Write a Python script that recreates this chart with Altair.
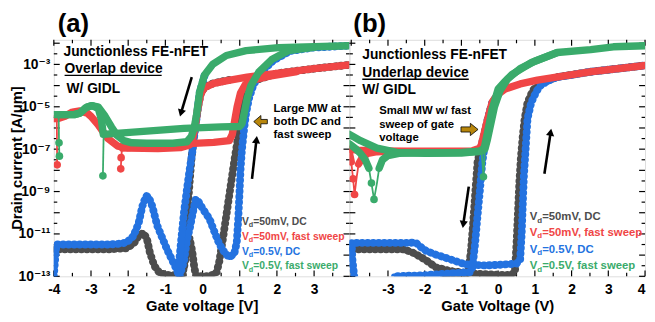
import altair as alt
import pandas as pd

FONT = "Liberation Sans, Arial, DejaVu Sans, sans-serif"
COLORS = {"gray": "#4d4d4d", "blue": "#2372e0", "red": "#f04646", "green": "#3aab6b"}
GOLD = "#b8860b"
W, H = 300, 240
XDOM_A = [-4.0, 3.95]
XDOM_B = [-4.05, 4.0]
YDOM = [-13.0, -1.84]

# ---------------- panel (a) curves: (gate voltage V, log10 drain current) ----------------
A_GRAY_FWD = [(-4.0,-11.72),(-2.5,-11.72),(-2.05,-11.68),(-1.85,-11.45),(-1.72,-11.1),(-1.6,-10.95),(-1.5,-11.2),
              (-1.42,-11.85),(-1.3,-12.5),(-1.15,-12.85),(-0.9,-12.95),(-0.6,-12.95),(-0.5,-12.6),(-0.42,-11.8),
              (-0.35,-11.2),(-0.28,-11.8),(-0.22,-12.6),(-0.17,-13.0),(0.2,-13.0),(0.38,-12.8),(0.45,-12.3),
              (0.55,-11.2),(0.65,-10.0),(0.75,-8.8),(0.85,-7.6),(0.95,-6.5),(1.02,-5.8),(1.08,-5.0),(1.15,-4.2),
              (1.3,-3.8),(1.6,-3.65),(2.0,-3.42),(3.0,-3.2),(3.95,-3.02)]
A_GRAY_REV = [(0.7,-3.74),(0.3,-3.88),(0.05,-4.08),(-0.05,-4.4),(-0.12,-5.0),(-0.18,-5.7),(-0.24,-6.5),
              (-0.3,-7.5),(-0.35,-8.6),(-0.4,-9.8),(-0.45,-11.2),(-0.5,-12.4),(-0.53,-13.0)]
A_BLUE_FWD = [(-4.0,-13.0),(-3.97,-12.3),(-3.93,-11.5),(-3.5,-11.5),(-2.5,-11.5),(-2.15,-11.45),(-2.02,-11.37),
              (-1.86,-11.1),(-1.72,-10.5),(-1.62,-9.7),(-1.52,-9.2),(-1.45,-9.25),(-1.35,-9.7),(-1.22,-10.6),
              (-1.08,-11.2),(-0.95,-11.75),(-0.8,-12.3),(-0.69,-12.7),(-0.62,-13.0),(-0.5,-12.3),(-0.42,-11.3),
              (-0.34,-10.7),(-0.25,-9.9),(-0.18,-9.35),(-0.1,-9.5),(0.0,-9.8),(0.19,-10.3),(0.32,-10.9),
              (0.45,-11.47),(0.6,-11.9),(0.72,-12.1),(0.85,-11.95),(0.92,-11.4),(0.96,-10.3),(0.99,-9.2),
              (1.02,-8.0),(1.06,-7.0),(1.12,-6.0),(1.17,-5.3),(1.25,-4.6),(1.36,-4.0),(1.56,-3.4),(1.9,-2.82),
              (2.35,-2.37),(3.0,-2.2),(3.95,-2.12)]
A_BLUE_REV = [(0.05,-3.55),(-0.08,-4.35),(-0.15,-5.4),(-0.22,-6.3),(-0.28,-7.2),(-0.35,-8.0),(-0.42,-8.9),
              (-0.5,-10.0),(-0.58,-11.4),(-0.66,-12.9)]
A_RED_REV = [(3.95,-3.02),(3.0,-3.2),(2.0,-3.42),(1.2,-3.6),(0.7,-3.75),(0.3,-3.9),(0.05,-4.1),(-0.05,-4.4),
             (-0.12,-5.0),(-0.18,-5.7),(-0.25,-6.4),(-0.35,-6.8),(-0.6,-6.93),(-1.2,-6.97),(-2.0,-6.95),
             (-2.28,-6.86),(-2.55,-6.49),(-2.81,-5.84),(-3.0,-5.45),(-3.1,-5.3),(-3.3,-5.2),(-3.5,-5.25),
             (-3.7,-5.45),(-3.9,-5.56),(-4.0,-5.56)]
A_RED_FWD = [(-2.15,-6.95),(-1.5,-6.85),(-0.5,-6.75),(0.3,-6.68),(0.72,-6.6),(0.8,-6.3),(0.86,-5.7),(0.93,-5.0),
             (1.02,-4.35),(1.15,-3.95),(1.4,-3.72),(1.8,-3.55),(2.5,-3.35)]
A_GREEN_REV = [(3.95,-2.12),(3.0,-2.17),(2.04,-2.21),(1.17,-2.35),(0.64,-2.58),(0.27,-3.0),(0.05,-3.51),
               (-0.08,-4.3),(-0.16,-5.37),(-0.22,-5.95),(-0.3,-6.4),(-0.42,-6.65),(-0.8,-6.72),(-1.5,-6.72),
               (-1.9,-6.7),(-2.12,-6.6),(-2.3,-6.35),(-2.45,-5.95),(-2.62,-5.45),(-2.81,-5.0),(-3.0,-4.95),
               (-3.15,-5.05),(-3.3,-5.3),(-3.45,-5.37),(-3.8,-5.37),(-4.0,-5.37)]
A_GREEN_FWD = [(-3.87,-5.37),(-3.45,-5.37),(-3.3,-5.3),(-3.1,-5.0),(-2.95,-4.95),(-2.8,-5.1),(-2.72,-5.6),
               (-2.67,-6.3),(-2.5,-6.28),(-1.5,-6.15),(-0.5,-6.02),(0.5,-5.95),(1.0,-5.93),(1.06,-5.8),
               (1.12,-5.3),(1.2,-4.6),(1.3,-4.0),(1.51,-3.37),(1.86,-2.77),(2.31,-2.35),(3.0,-2.2)]
A_THIN = [("green", [(-3.87,-5.4),(-3.86,-6.7),(-3.85,-7.33)]),
          ("green", [(-2.66,-6.3),(-2.68,-8.26)]),
          ("red", [(-3.92,-5.6),(-3.91,-7.74)]),
          ("red", [(-2.17,-7.0),(-2.2,-7.93)])]
A_DOTS = [("green",-3.86,-6.7),("green",-3.85,-7.33),("green",-2.68,-8.26),("red",-3.91,-7.74),("red",-2.2,-7.93),
          ("red",-2.19,-7.4)]

# ---------------- panel (b) curves ----------------
B_GRAY_FWD = [(-3.95,-11.72),(-3.5,-11.72),(-2.57,-11.72),(-2.3,-11.9),(-2.0,-12.2),(-1.69,-12.58),(-1.3,-12.75),
              (-0.8,-12.86),(0.0,-12.93),(0.38,-12.93),(0.46,-12.7),(0.5,-11.5),(0.54,-10.0),(0.58,-8.5),
              (0.62,-7.4),(0.67,-6.4),(0.72,-5.6),(0.8,-4.8),(0.95,-4.2),(1.2,-3.85),(1.6,-3.6),(2.5,-3.35),
              (4.0,-3.05)]
B_GRAY_REV = [(0.0,-4.42),(-0.16,-4.8),(-0.29,-5.65),(-0.4,-6.45),(-0.48,-7.0),(-0.56,-7.6),(-0.62,-9.0),
              (-0.68,-10.5),(-0.74,-11.8),(-0.8,-12.6),(-0.85,-12.95),(-1.5,-13.0)]
B_BLUE_FWD = [(-3.92,-13.0),(-3.97,-12.2),(-3.99,-11.42),(-3.0,-11.42),(-2.4,-11.42),(-2.25,-11.4),(-2.12,-11.6),
              (-1.96,-11.8),(-1.69,-11.98),(-1.29,-12.21),(-0.88,-12.44),(-0.35,-12.49),(0.19,-12.44),(0.5,-12.4),
              (0.6,-12.2),(0.64,-11.0),(0.67,-9.6),(0.7,-8.3),(0.74,-7.2),(0.8,-5.56),(0.9,-4.8),(1.05,-4.25),
              (1.18,-3.95),(1.4,-3.75),(1.61,-3.6),(2.0,-3.5),(2.5,-3.35),(4.0,-3.05)]
B_BLUE_REV = [(0.0,-4.42),(-0.16,-4.8),(-0.29,-5.65),(-0.38,-7.0),(-0.43,-7.6),(-0.5,-9.0),(-0.57,-10.3),
              (-0.63,-11.5),(-0.7,-12.58),(-0.76,-12.8),(-1.2,-12.85),(-2.0,-12.95),(-2.84,-13.0)]
B_RED_REV = [(4.0,-3.05),(2.5,-3.35),(1.5,-3.62),(1.07,-3.74),(0.6,-3.92),(0.19,-4.16),(0.0,-4.4),(-0.16,-4.77),
             (-0.29,-5.6),(-0.4,-6.4),(-0.48,-6.95),(-0.7,-7.08),(-1.5,-7.1),(-2.5,-7.1),(-3.3,-7.08),
             (-3.8,-7.05),(-4.05,-7.0)]
B_RED_FWD1 = [(-4.05,-7.2),(-4.0,-7.6)]
B_RED_FWD2 = [(-3.8,-7.7),(-3.7,-7.4),(-3.55,-7.2),(-3.3,-7.12),(-3.0,-7.1)]
B_GREEN_REV = [(4.0,-2.12),(3.14,-2.17),(2.52,-2.3),(1.61,-2.44),(0.91,-2.91),(0.38,-3.47),(0.19,-3.8),(0.0,-4.16),
               (-0.16,-5.09),(-0.3,-6.3),(-0.38,-6.95),(-0.5,-7.1),(-1.0,-7.18),(-2.0,-7.2),(-2.76,-7.15),
               (-3.3,-6.95),(-3.75,-6.6),(-4.05,-6.3)]
B_GREEN_FWD1 = [(-4.05,-6.75),(-3.9,-6.95),(-3.75,-7.2),(-3.62,-7.5),(-3.52,-7.9)]
B_GREEN_FWD2 = [(-3.24,-7.9),(-3.15,-7.5),(-3.0,-7.3),(-2.7,-7.2),(-2.0,-7.17),(-1.0,-7.15),(-0.45,-7.1)]
B_GREEN_FWD3 = [(-0.36,-7.0),(-0.3,-6.6),(-0.2,-5.8),(-0.1,-5.0),(0.05,-4.25),(0.25,-3.7),(0.6,-3.2),(1.0,-2.85),
                (1.6,-2.45)]
B_THIN = [("red", [(-4.0,-7.6),(-3.95,-8.4),(-3.91,-9.14),(-3.85,-8.3),(-3.8,-7.7)]),
          ("green", [(-3.52,-7.9),(-3.45,-8.6),(-3.38,-9.37),(-3.3,-8.6),(-3.24,-7.9)]),
          ("green", [(-0.45,-7.1),(-0.40,-8.3),(-0.36,-7.0)])]
B_DOTS = [("red",-3.91,-9.14),("red",-3.95,-8.4),("green",-3.38,-9.37),("green",-3.45,-8.6),("green",-0.40,-8.3)]

# ---------------- annotations ----------------
SERIES_ORDER = ["gray", "blue", "red", "green"]
BEADED = {"gray", "blue"}
LEG_COLORS = ["gray", "red", "blue", "green"]
LEG_TEXT = ["=50mV, DC", "=50mV, fast sweep", "=0.5V, DC", "=0.5V, fast sweep"]
A_LEG_V, A_LEG_L = 1.06, [-10.44, -11.14, -11.84, -12.53]
B_LEG_V, B_LEG_L = 0.86, [-10.21, -10.95, -11.74, -12.53]

A_TITLE_LINES = ["Junctionless FE-nFET", "Overlap device", "W/ GIDL"]
A_TITLE_POS = [(-3.74, -2.44), (-3.71, -3.23), (-3.66, -4.16)]
A_UNDERLINE = (-3.71, -1.1, -3.52)
B_TITLE_LINES = ["Junctionless FE-nFET", "Underlap device", "W/ GIDL"]
B_TITLE_POS = [(-3.70, -2.58), (-3.70, -3.42), (-3.70, -4.21)]
B_UNDERLINE = (-3.70, -0.80, -3.70)

A_NOTE = ["Large MW at", "both DC and", "fast sweep"]
A_NOTE_V, A_NOTE_L = 1.91, [-5.09, -5.74, -6.35]
B_NOTE = ["Small MW w/ fast", "sweep of gate", "voltage"]
B_NOTE_V, B_NOTE_L = -3.24, [-5.19, -5.84, -6.49]

# black arrows: tail (V, L) -> tip (V, L), head shape, rotation
A_ARROWS = [(-0.29, -3.60, -0.58, -5.30, "triangle-down", 16), (1.33, -8.40, 1.45, -6.55, "triangle-up", 7)]
B_ARROWS = [(-0.80, -8.77, -0.95, -10.55, "triangle-down", 8), (1.26, -8.16, 1.43, -6.20, "triangle-up", 9)]
A_GOLD = (1.56, -5.70, "left")
B_GOLD = (-0.78, -6.07, "right")

X_MAJOR = [-4, -3, -2, -1, 0, 1, 2, 3, 4]
X_MINOR = [-3.5, -2.5, -1.5, -0.5, 0.5, 1.5, 2.5, 3.5]
Y_MAJOR = [-13, -12, -11, -10, -9, -8, -7, -6, -5, -4, -3, -2]
Y_MINOR = [-12.5, -11.5, -10.5, -9.5, -8.5, -7.5, -6.5, -5.5, -4.5, -3.5, -2.5]
Y_LABELS = [-13, -11, -9, -7, -5, -3]
SUP = {-13: "10⁻¹³", -11: "10⁻¹¹", -9: "10⁻⁹", -7: "10⁻⁷", -5: "10⁻⁵", -3: "10⁻³"}
Y_TITLE = "Drain current [A/μm]"

LEFT_ARROW = "M 1 -0.32 L 0.05 -0.32 L 0.05 -0.9 L -1 0 L 0.05 0.9 L 0.05 0.32 L 1 0.32 Z"
RIGHT_ARROW = "M -1 -0.3 L 0.1 -0.3 L 0.1 -0.72 L 1 0 L 0.1 0.72 L 0.1 0.3 L -1 0.3 Z"


def seg_frame(segs):
    rows = []
    for k, (series, pts) in enumerate(segs):
        for i, (v, l) in enumerate(pts):
            rows.append({"series": series, "seg": k, "i": i, "V": v, "L": l})
    return pd.DataFrame(rows)


def panel(tag, xdom, xlabels, xtitle, show_y, thick, thin, dots, titles, tpos, underline,
          note, note_v, note_l, leg_v, leg_l, leg_size, arrows, gold, flush):
    xs = alt.Scale(domain=xdom, nice=False, zero=False)
    ys = alt.Scale(domain=YDOM, nice=False, zero=False)
    xaxis = alt.Axis(values=xlabels, labelExpr="'' + datum.value", ticks=False, domain=False, grid=False,
                     labelFont=FONT, labelFontSize=14, labelFontWeight="bold", labelColor="black",
                     labelPadding=6, labelFlush=flush, title=xtitle, titleFont=FONT, titleFontSize=15,
                     titleFontWeight="bold", titleColor="black", titlePadding=3)
    if show_y:
        expr = " : ".join(f"datum.value == {k} ? '{v}'" for k, v in SUP.items()) + " : ''"
        yaxis = alt.Axis(values=Y_LABELS, labelExpr=expr, ticks=False, domain=False, grid=False,
                         labelFont=FONT, labelFontSize=14, labelFontWeight="bold", labelColor="black",
                         labelPadding=4, title=None)
    else:
        yaxis = None

    def X(f):
        return alt.X(f, type="quantitative", scale=xs, axis=xaxis)

    def Y(f):
        return alt.Y(f, type="quantitative", scale=ys, axis=yaxis)

    layers = []
    # inward ticks
    xt_maj = pd.DataFrame({"t": [v for v in X_MAJOR if xdom[0] <= v <= xdom[1]]})
    xt_min = pd.DataFrame({"t": [v for v in X_MINOR if xdom[0] <= v <= xdom[1]]})
    yt_maj = pd.DataFrame({"t": Y_MAJOR})
    yt_min = pd.DataFrame({"t": Y_MINOR})
    for df, ln in [(xt_maj, 6), (xt_min, 3.5)]:
        layers.append(alt.Chart(df).mark_rule(color="black", strokeWidth=1.2).encode(
            x=X("t"), y=alt.value(H), y2=alt.value(H - ln)))
        layers.append(alt.Chart(df).mark_rule(color="black", strokeWidth=1.2).encode(
            x=X("t"), y=alt.value(0), y2=alt.value(ln)))
    for df, ln in [(yt_maj, 6), (yt_min, 3.5)]:
        layers.append(alt.Chart(df).mark_rule(color="black", strokeWidth=1.2).encode(
            y=Y("t"), x=alt.value(0), x2=alt.value(ln)))
        layers.append(alt.Chart(df).mark_rule(color="black", strokeWidth=1.2).encode(
            y=Y("t"), x=alt.value(W), x2=alt.value(W - ln)))

    thick_df = seg_frame(thick)
    thin_df = seg_frame(thin)
    dots_df = pd.DataFrame(dots, columns=["series", "V", "L"])
    for s in SERIES_ORDER:
        col = COLORS[s]
        sub = thick_df[thick_df.series == s]
        if len(sub):
            if s in BEADED:
                layers.append(alt.Chart(sub).mark_line(color=col, strokeWidth=5.5, strokeCap="round",
                                                       strokeJoin="round", clip=True).encode(
                    x=X("V"), y=Y("L"), detail="seg:N", order="i:Q"))
                layers.append(alt.Chart(sub).mark_line(color=col, strokeWidth=8, strokeCap="round",
                                                       strokeDash=[0.1, 5.5], clip=True).encode(
                    x=X("V"), y=Y("L"), detail="seg:N", order="i:Q"))
            else:
                layers.append(alt.Chart(sub).mark_line(color=col, strokeWidth=7.5, strokeCap="round",
                                                       strokeJoin="round", clip=True).encode(
                    x=X("V"), y=Y("L"), detail="seg:N", order="i:Q"))
        sub = thin_df[thin_df.series == s]
        if len(sub):
            layers.append(alt.Chart(sub).mark_line(color=col, strokeWidth=1.8, clip=True).encode(
                x=X("V"), y=Y("L"), detail="seg:N", order="i:Q"))
        sub = dots_df[dots_df.series == s]
        if len(sub):
            layers.append(alt.Chart(sub).mark_circle(color=col, size=60, opacity=1, clip=True).encode(
                x=X("V"), y=Y("L")))

    # text block
    tdf = pd.DataFrame({"txt": titles, "V": [p[0] for p in tpos], "L": [p[1] for p in tpos]})
    layers.append(alt.Chart(tdf).mark_text(align="left", baseline="middle", font=FONT, fontSize=14,
                                           fontWeight="bold", color="black", clip=True).encode(
        x=X("V"), y=Y("L"), text="txt:N"))
    udf = pd.DataFrame({"V": [underline[0]], "V2": [underline[1]], "L": [underline[2]]})
    layers.append(alt.Chart(udf).mark_rule(color="black", strokeWidth=1.3).encode(
        x=X("V"), x2=alt.X2("V2"), y=Y("L")))
    ndf = pd.DataFrame({"txt": note, "V": [note_v] * len(note), "L": note_l})
    layers.append(alt.Chart(ndf).mark_text(align="left", baseline="middle", font=FONT, fontSize=11.5,
                                           fontWeight="bold", color="black", clip=True).encode(
        x=X("V"), y=Y("L"), text="txt:N"))

    # legend texts (V with subscript d)
    wv = leg_size * 0.667
    wd = (leg_size * 0.7) * 0.611
    for s, txt, l in zip(LEG_COLORS, LEG_TEXT, leg_l):
        ldf = pd.DataFrame({"V": [leg_v], "L": [l], "a": ["V"], "b": ["d"], "c": [txt]})
        base = alt.Chart(ldf)
        layers.append(base.mark_text(align="left", baseline="middle", font=FONT, fontSize=leg_size,
                                     fontWeight="bold", color=COLORS[s], clip=True).encode(
            x=X("V"), y=Y("L"), text="a:N"))
        layers.append(base.mark_text(align="left", baseline="middle", font=FONT, fontSize=leg_size * 0.7,
                                     fontWeight="bold", color=COLORS[s], dx=wv, dy=3.5, clip=True).encode(
            x=X("V"), y=Y("L"), text="b:N"))
        layers.append(base.mark_text(align="left", baseline="middle", font=FONT, fontSize=leg_size,
                                     fontWeight="bold", color=COLORS[s], dx=wv + wd, clip=True).encode(
            x=X("V"), y=Y("L"), text="c:N"))

    # black arrows
    adf = pd.DataFrame(arrows, columns=["V", "L", "V2", "L2", "shape", "ang"])
    layers.append(alt.Chart(adf).mark_rule(color="black", strokeWidth=2.6).encode(
        x=X("V"), y=Y("L"), x2=alt.X2("V2"), y2=alt.Y2("L2")))
    for _, r in adf.iterrows():
        hdf = pd.DataFrame({"V": [r.V2], "L": [r.L2]})
        layers.append(alt.Chart(hdf).mark_point(shape=r["shape"], filled=True, color="black", opacity=1,
                                                size=70, angle=float(r.ang)).encode(x=X("V"), y=Y("L")))
    # gold block arrow
    gdf = pd.DataFrame({"V": [gold[0]], "L": [gold[1]]})
    layers.append(alt.Chart(gdf).mark_point(shape=LEFT_ARROW if gold[2] == "left" else RIGHT_ARROW,
                                            filled=True, fill=GOLD, stroke="black", strokeWidth=0.8,
                                            opacity=1, fillOpacity=1,
                                            size=190 if gold[2] == "left" else 300).encode(
        x=X("V"), y=Y("L")))
    # panel tag
    layers.append(alt.Chart(pd.DataFrame({"t": [tag]})).mark_text(
        align="left", baseline="middle", font=FONT, fontSize=26, fontWeight="bold", color="black").encode(
        x=alt.value(4), y=alt.value(-16), text="t:N"))
    if show_y:
        layers.append(alt.Chart(pd.DataFrame({"t": [Y_TITLE]})).mark_text(
            align="center", baseline="middle", font=FONT, fontSize=15, fontWeight="bold", color="black",
            angle=270).encode(x=alt.value(-37), y=alt.value(H / 2), text="t:N"))

    return alt.layer(*layers).properties(width=W, height=H)


pa = panel("(a)", XDOM_A, [-4, -3, -2, -1, 0, 1, 2, 3], "Gate voltage [V]", True,
           [("gray", A_GRAY_FWD), ("gray", A_GRAY_REV), ("blue", A_BLUE_FWD), ("blue", A_BLUE_REV),
            ("red", A_RED_REV), ("red", A_RED_FWD), ("green", A_GREEN_REV), ("green", A_GREEN_FWD)],
           A_THIN, A_DOTS, A_TITLE_LINES, A_TITLE_POS, A_UNDERLINE, A_NOTE, A_NOTE_V, A_NOTE_L,
           A_LEG_V, A_LEG_L, 10.5, A_ARROWS, A_GOLD, False)
pb = panel("(b)", XDOM_B, [-3, -2, -1, 0, 1, 2, 3, 4], "Gate Voltage (V)", False,
           [("gray", B_GRAY_FWD), ("gray", B_GRAY_REV), ("blue", B_BLUE_FWD), ("blue", B_BLUE_REV),
            ("red", B_RED_REV), ("red", B_RED_FWD1), ("red", B_RED_FWD2), ("green", B_GREEN_REV),
            ("green", B_GREEN_FWD1), ("green", B_GREEN_FWD2), ("green", B_GREEN_FWD3)],
           B_THIN, B_DOTS, B_TITLE_LINES, B_TITLE_POS, B_UNDERLINE, B_NOTE, B_NOTE_V, B_NOTE_L,
           B_LEG_V, B_LEG_L, 11.5, B_ARROWS, B_GOLD, True)

chart = alt.hconcat(pa, pb, spacing=0, bounds="flush").properties(
    padding={"left": 1.5, "right": 0, "top": 0, "bottom": 0}
).configure_view(stroke="black", strokeWidth=1.6).configure(font=FONT)

chart.save("out.html", embed_options={"renderer": "svg", "actions": False})
